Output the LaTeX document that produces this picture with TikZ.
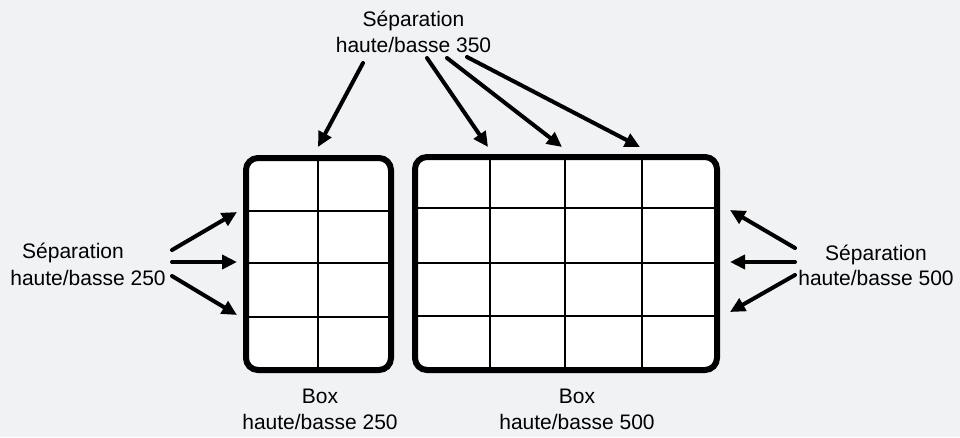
\documentclass[tikz,border=0pt]{standalone}
\usepackage{fontspec}
\setmainfont{Liberation Sans}
\usetikzlibrary{arrows.meta}
\definecolor{bg}{HTML}{F1F2F4}
\begin{document}
\begin{tikzpicture}[x=1pt,y=-1pt,
  lbl/.style={align=center,font=\fontsize{21}{25.5}\selectfont,inner sep=0pt},
  arr/.style={line width=4pt,line cap=round,-{Triangle[length=15pt,width=14pt]}},
  frame/.style={draw,fill=white,line width=6pt,rounded corners=12pt,inner sep=0pt},
  gridline/.style={line width=2pt}]
\fill[bg] (0,0) rectangle (960,437);
\useasboundingbox (0,0) rectangle (960,437);
% box 1
\node[frame,minimum width=145pt,minimum height=212pt] (b1) at (318.5,264) {};
\draw[gridline] (318,161) -- (318,367);
\foreach \y in {211,263,317} \draw[gridline] (249,\y) -- (388,\y);
% box 2
\node[frame,minimum width=302pt,minimum height=213pt] (b2) at (566,263.5) {};
\foreach \x in {490,565,642} \draw[gridline] (\x,160) -- (\x,367);
\foreach \y in {208,263,316} \draw[gridline] (418,\y) -- (714,\y);
% labels
\node[lbl] (top) at (413.5,32) {Séparation\\haute/basse 350};
\node[lbl] (left1) at (73,253) {Séparation};
\node[lbl] (left2) at (88,278) {haute/basse 250};
\node[lbl] (right) at (876,265.5) {Séparation\\haute/basse 500};
\node[lbl] (bl1) at (320,409.5) {Box\\haute/basse 250};
\node[lbl] (bl2) at (577,409.5) {Box\\haute/basse 500};
% arrow coordinates
\coordinate (ls1) at (172,250); \coordinate (le1) at (237,212);
\coordinate (ls2) at (172,262); \coordinate (le2) at (237,262);
\coordinate (ls3) at (172,276); \coordinate (le3) at (237,315);
\coordinate (rs1) at (795,248); \coordinate (re1) at (730,210);
\coordinate (rs2) at (795,262); \coordinate (re2) at (730,262);
\coordinate (rs3) at (795,275); \coordinate (re3) at (730,312);
\coordinate (ts1) at (363,63); \coordinate (te1) at (318,147);
\coordinate (ts2) at (427,58); \coordinate (te2) at (488,147);
\coordinate (ts3) at (447,58); \coordinate (te3) at (562,147);
\coordinate (ts4) at (467,57); \coordinate (te4) at (640,147);
\foreach \a in {1,2,3} {
  \draw[arr] (ls\a) -- (le\a);
  \draw[arr] (rs\a) -- (re\a);
}
\foreach \a in {1,2,3,4} \draw[arr] (ts\a) -- (te\a);
\end{tikzpicture}
\end{document}
